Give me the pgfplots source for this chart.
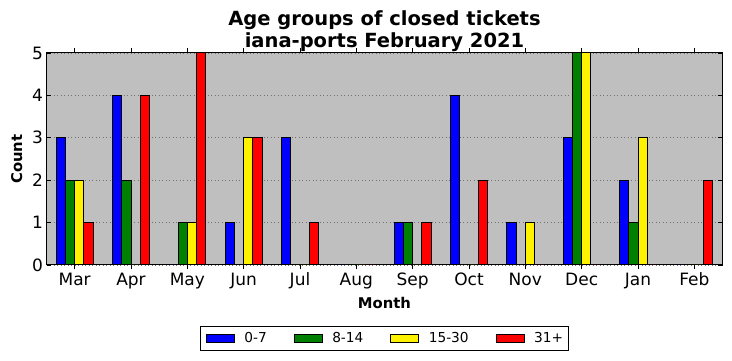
\documentclass[border=0pt]{standalone}
\usepackage{fontspec}
\setmainfont{DejaVu Sans}
\usepackage{pgfplots}
\usepackage{pgfplotstable}
\pgfplotsset{compat=1.18}
\definecolor{bg}{RGB}{191,191,191}
\definecolor{mgreen}{RGB}{0,128,0}
\pgfplotstableread{
x a b c d
0 3 2 2 1
1 4 2 0 4
2 0 1 1 5
3 1 0 3 3
4 3 0 0 1
5 0 0 0 0
6 1 1 0 1
7 4 0 0 2
8 1 0 1 0
9 3 5 5 0
10 2 1 3 0
11 0 0 0 2
}\data
\begin{document}
\begin{tikzpicture}[x=1pt,y=1pt]
\useasboundingbox (0,0) rectangle (732,361);
\begin{axis}[
  at={(46.5pt,96pt)}, anchor=south west,
  scale only axis, width=676pt, height=212pt,
  xmin=-0.5, xmax=11.5, ymin=0, ymax=5,
  xtick={0,...,11},
  xticklabels={Mar,Apr,May,Jun,Jul,Aug,Sep,Oct,Nov,Dec,Jan,Feb},
  ytick={0,...,5},
  tick align=inside, major tick length=4.5pt,
  tick style={black, line width=0.8pt},
  axis line style={line width=1pt},
  axis background/.style={fill=bg},
  ymajorgrids,
  grid style={dash pattern=on 1pt off 2.5pt, black!55, line width=0.6pt},
  ticklabel style={font=\fontsize{17}{20}\selectfont},
  /pgf/number format/assume math mode=true,
  ybar, bar width=0.165,
  legend columns=4,
  legend style={at={(0.5,-0.346)}, anchor=center,
    font=\fontsize{13.7}{16}\selectfont, draw=black, line width=1pt,
    nodes={inner xsep=0pt, inner ysep=2pt},
    inner xsep=5pt, inner ysep=4.5pt,
    /tikz/every odd column/.append style={column sep=9.5pt},
    /tikz/every even column/.append style={column sep=27pt}},
  legend image code/.code={\draw[#1] (0pt,-4pt) rectangle (28pt,4pt);},
]
\addplot[fill=blue, draw=black, line width=1pt, bar shift=-0.2475] table[x=x,y=a]{\data};
\addplot[fill=mgreen, draw=black, line width=1pt, bar shift=-0.0825] table[x=x,y=b]{\data};
\addplot[fill=yellow, draw=black, line width=1pt, bar shift=0.0825] table[x=x,y=c]{\data};
\addplot[fill=red, draw=black, line width=1pt, bar shift=0.2475] table[x=x,y=d]{\data};
\legend{0-7,8-14,15-30,31+}
\end{axis}
\node[anchor=base, font=\bfseries\fontsize{19.5}{23}\selectfont] at (384.5,335) {Age groups of closed tickets};
\node[anchor=base, font=\bfseries\fontsize{19.5}{23}\selectfont] at (384.5,313) {iana-ports February 2021};
\node[anchor=base, font=\bfseries\fontsize{14.8}{17}\selectfont] at (384.5,52) {Month};
\node[anchor=base, rotate=90, font=\bfseries\fontsize{14.8}{17}\selectfont] at (22,202) {Count};
\end{tikzpicture}
\end{document}
